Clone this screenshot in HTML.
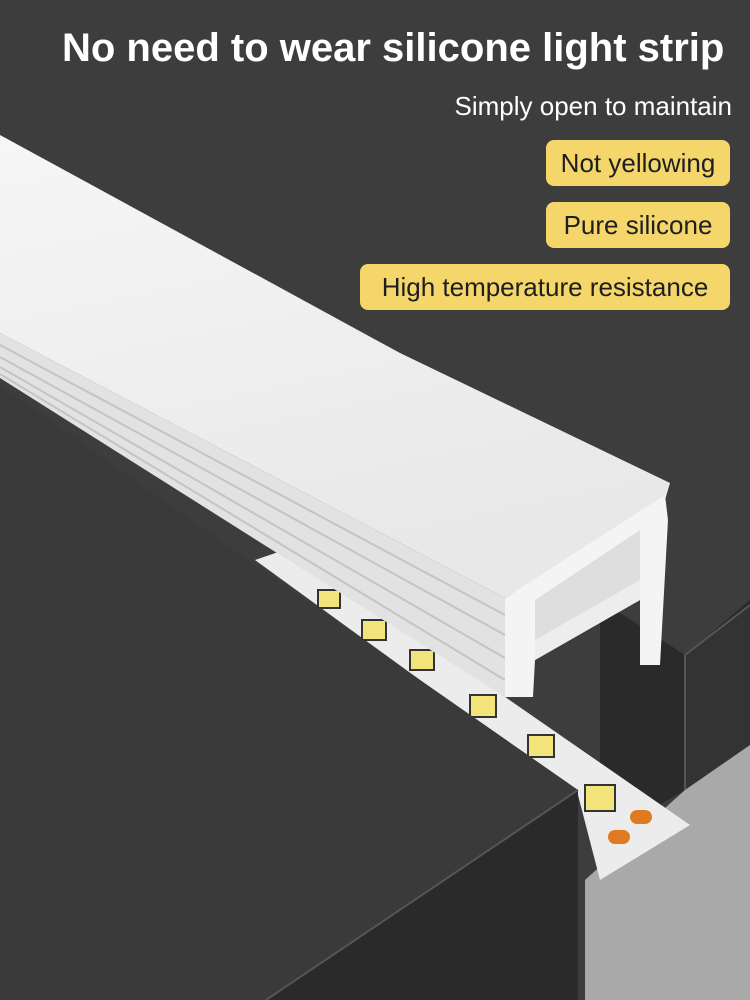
<!DOCTYPE html>
<html><head><meta charset="utf-8"><style>
html,body{margin:0;padding:0;width:750px;height:1000px;overflow:hidden;background:#3d3d3d;font-family:"Liberation Sans",sans-serif}
.t{position:absolute;color:#fff;white-space:nowrap}
.p{position:absolute;background:#f5d66a;color:#1e1e1e;border-radius:8px;font-size:26px;height:46px;line-height:46px;text-align:center;white-space:nowrap}
</style></head><body>
<svg width="750" height="1000" style="position:absolute;left:0;top:0">
<defs>
<linearGradient id="tf" x1="0" y1="0" x2="0.3" y2="1"><stop offset="0" stop-color="#f6f6f6"/><stop offset="1" stop-color="#e8e8e8"/></linearGradient>
</defs>
<rect width="750" height="1000" fill="#3d3d3d"/>
<polygon points="600,600 685,655 750,600 750,745 685,790 600,840" fill="#2a2a2a"/>
<polygon points="685,655 750,605 750,745 685,790" fill="#333"/>
<line x1="685" y1="655" x2="685" y2="790" stroke="#555" stroke-width="2"/>
<line x1="685" y1="655" x2="750" y2="605" stroke="#555" stroke-width="2"/>
<polygon points="585,1000 585,880 685,790 750,745 750,1000" fill="#a9a9a9"/>
<polygon points="255,560 290,548 690,825 600,880 578,795" fill="#ececec"/>
<g fill="#f2e37a" stroke="#333" stroke-width="2">
<rect x="318" y="590" width="22" height="18"/><rect x="362" y="620" width="24" height="20"/>
<rect x="410" y="650" width="24" height="20"/><rect x="470" y="695" width="26" height="22"/>
<rect x="528" y="735" width="26" height="22"/><rect x="585" y="785" width="30" height="26"/>
</g>
<rect x="630" y="810" width="22" height="14" rx="7" fill="#e07a20"/><rect x="608" y="830" width="22" height="14" rx="7" fill="#e07a20"/>
<polygon points="0,385 255,565 578,790 578,1000 0,1000" fill="#3a3a3a"/>
<polygon points="578,790 578,1000 266,1000" fill="#2a2a2a"/>
<line x1="578" y1="790" x2="266" y2="1000" stroke="#555" stroke-width="2"/>
<polygon points="0,333 505,598 505,697 0,378" fill="#e2e2e2"/>
<g stroke="#c4c4c4" stroke-width="2">
<line x1="0" y1="345" x2="505" y2="615"/><line x1="0" y1="357" x2="505" y2="635"/>
<line x1="0" y1="367" x2="505" y2="658"/><line x1="0" y1="374" x2="505" y2="680"/>
</g>
<polygon points="0,135 400,353 670,483 665,500 505,598 0,333" fill="url(#tf)"/>
<polygon points="505,598 665,495 668,520 660,665 640,665 640,600 535,660 533,697 505,697" fill="#f4f4f4"/>
<polygon points="535,600 640,530 640,590 535,655" fill="#dedede"/>
<polygon points="535,640 640,580 640,600 535,660" fill="#ededed"/>
</svg>
<div class="t" style="left:62px;top:26px;font-size:40px;font-weight:bold">No need to wear silicone light strip</div>
<div class="t" style="right:18px;top:91px;font-size:26px">Simply open to maintain</div>
<div class="p" style="left:546px;top:140px;width:184px">Not yellowing</div>
<div class="p" style="left:546px;top:202px;width:184px">Pure silicone</div>
<div class="p" style="left:360px;top:264px;width:370px">High temperature resistance</div>
</body></html>
